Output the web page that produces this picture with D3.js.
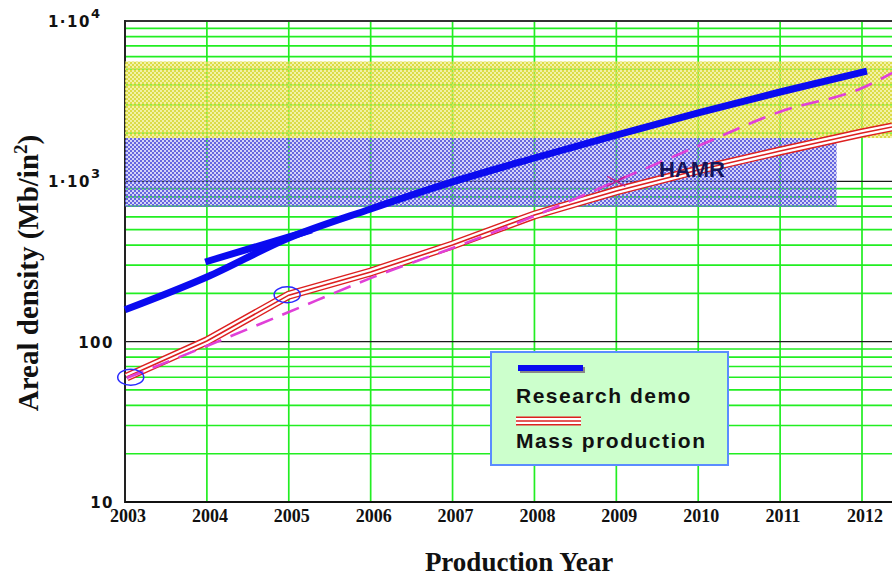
<!DOCTYPE html>
<html><head><meta charset="utf-8">
<script src="https://cdn.jsdelivr.net/npm/d3@7"></script>
<style>body{margin:0;background:#fff}svg{display:block}</style>
</head><body>
<svg id="c" width="892" height="577"></svg>
<script>
// ---------- data ----------
const yearTicks = [2003, 2004, 2005, 2006, 2007, 2008, 2009, 2010, 2011, 2012];
const yMajorTicks = [10, 100, 1000, 10000];
const yMajorLabels = ["10", "100", "1·10|3", "1·10|4"];

const researchYears = [2003.0, 2004, 2005, 2006, 2007, 2008, 2009, 2010, 2011, 2012.06];
const researchValues = [158, 253, 443, 672, 991, 1398, 1945, 2669, 3608, 4875];
const researchAltYears = [2003.98, 2005.28];
const researchAltValues = [314, 497];

const massYears = [2003.02, 2004, 2005, 2006, 2007, 2008, 2009, 2010, 2011, 2012, 2012.37];
const massValues = [60.2, 101, 195, 272, 401, 617, 871, 1177, 1546, 2002, 2183];

const trendYears = [2003.02, 2004, 2005, 2006, 2007, 2008, 2009, 2010, 2011, 2012, 2012.37];
const trendValues = [59.3, 94, 153, 249, 384, 608, 1005, 1660, 2720, 3817, 4742];

const circleYears = [2003.07, 2004.98];
const circleValues = [60, 196];

const yellowBand = {x0: 2003, x1: 2012.37, v0: 1862, v1: 5590};
const blueBand = {x0: 2003, x1: 2011.69, v0: 692, v1: 1862};
const hamrPos = {year: 2009.52, value: 1064};
const crossMark = {year: 2009.0, value: 1000};

// ---------- layout ----------
const svg = d3.select("#c");
const L = 125, R = 892, T = 21, B = 502;
const x = d3.scaleLinear().domain([2003, 2012 + 30 / 81.89]).range([L, R]);
const y = d3.scaleLog().domain([10, 10000]).range([B, T]);

const defs = svg.append("defs");
defs.append("clipPath").attr("id", "clip").append("rect")
  .attr("x", L - 8).attr("y", T - 2).attr("width", R - L + 8).attr("height", B - T + 4);
function checker(id, solid, faint) {
  const p = defs.append("pattern").attr("id", id).attr("patternUnits", "userSpaceOnUse")
    .attr("width", 4).attr("height", 4);
  p.append("rect").attr("width", 4).attr("height", 4).attr("fill", faint);
  p.append("rect").attr("x", 0).attr("y", 0).attr("width", 2).attr("height", 2).attr("fill", solid);
  p.append("rect").attr("x", 2).attr("y", 2).attr("width", 2).attr("height", 2).attr("fill", solid);
}
checker("yel", "#dcdc48", "rgba(232,232,96,0.55)");
checker("blu", "#6666e0", "rgba(120,120,226,0.32)");

// ---------- grid ----------
const grid = svg.append("g");
const minor = [];
[10, 100, 1000].forEach(d => { for (let k = 2; k <= 9; k++) minor.push(d * k); });
grid.selectAll(".hm").data(minor).enter().append("line")
  .attr("x1", L).attr("x2", R).attr("y1", d => y(d)).attr("y2", d => y(d))
  .attr("stroke", "#22ee22").attr("stroke-width", 1.7);
grid.selectAll(".vm").data(yearTicks.slice(1)).enter().append("line")
  .attr("x1", d => x(d)).attr("x2", d => x(d)).attr("y1", T).attr("y2", B)
  .attr("stroke", "#22ee22").attr("stroke-width", 1.7);
grid.selectAll(".hM").data([100, 1000]).enter().append("line")
  .attr("x1", L).attr("x2", R).attr("y1", d => y(d)).attr("y2", d => y(d))
  .attr("stroke", "#1a1a1a").attr("stroke-width", 1.4);
grid.append("line").attr("x1", L).attr("x2", R).attr("y1", y(10000)).attr("y2", y(10000))
  .attr("stroke", "#333").attr("stroke-width", 2);
grid.append("line").attr("x1", L).attr("x2", L).attr("y1", T - 1).attr("y2", B + 1)
  .attr("stroke", "#222").attr("stroke-width", 2);
grid.append("line").attr("x1", L).attr("x2", R).attr("y1", y(10)).attr("y2", y(10))
  .attr("stroke", "#111").attr("stroke-width", 2);

// ---------- bands ----------
function band(b, fill) {
  svg.append("rect").attr("x", x(b.x0)).attr("width", x(b.x1) - x(b.x0))
    .attr("y", y(b.v1)).attr("height", y(b.v0) - y(b.v1)).attr("fill", fill);
}
band(yellowBand, "url(#yel)");
band(blueBand, "url(#blu)");

// ---------- series ----------
const plot = svg.append("g").attr("clip-path", "url(#clip)");
const line = d3.line().x(d => x(d[0])).y(d => y(d[1]));
const smooth = d3.line().x(d => x(d[0])).y(d => y(d[1])).curve(d3.curveMonotoneX);

const trend = d3.zip(trendYears, trendValues);
const mass = d3.zip(massYears, massValues);
const research = d3.zip(researchYears, researchValues);
const researchAlt = d3.zip(researchAltYears, researchAltValues);

function triple(g, data, gen) {
  g.append("path").datum(data).attr("d", gen).attr("fill", "none").attr("stroke", "#dd2020").attr("stroke-width", 9);
  g.append("path").datum(data).attr("d", gen).attr("fill", "none").attr("stroke", "#fff").attr("stroke-width", 6.2);
  g.append("path").datum(data).attr("d", gen).attr("fill", "none").attr("stroke", "#dd2020").attr("stroke-width", 1.6);
}
triple(plot, mass, line);

plot.append("path").datum(trend).attr("d", smooth).attr("fill", "none")
  .attr("stroke", "#e040d8").attr("stroke-width", 2.6).attr("stroke-dasharray", "18,10");

plot.append("path").datum(research).attr("d", smooth).attr("fill", "none")
  .attr("stroke", "#0a0af0").attr("stroke-width", 7);
plot.append("path").datum(researchAlt).attr("d", line).attr("fill", "none")
  .attr("stroke", "#0a0af0").attr("stroke-width", 7);

plot.selectAll(".circ").data(d3.zip(circleYears, circleValues)).enter().append("ellipse")
  .attr("cx", d => x(d[0])).attr("cy", d => y(d[1])).attr("rx", 13).attr("ry", 8)
  .attr("fill", "none").attr("stroke", "#2a2aff").attr("stroke-width", 1.5);

const cx = x(crossMark.year), cy = y(crossMark.value);
plot.append("path").attr("d", `M${cx - 9},${cy - 5}L${cx + 9},${cy + 5}M${cx - 9},${cy + 5}L${cx + 9},${cy - 5}`)
  .attr("stroke", "#c02090").attr("stroke-width", 1.5).attr("fill", "none");

svg.append("text").attr("x", x(hamrPos.year)).attr("y", y(hamrPos.value))
  .attr("font-family", "Liberation Sans, Arial, sans-serif").attr("font-weight", "bold")
  .attr("font-size", 22).attr("fill", "#14145a").text("HAMR");

// ---------- axes labels ----------
const tickFont = "Liberation Serif, Times New Roman, serif";
svg.selectAll(".xt").data(yearTicks).enter().append("text")
  .attr("x", d => x(d) + 3).attr("y", 522).attr("text-anchor", "middle")
  .attr("font-family", tickFont).attr("font-weight", "bold").attr("font-size", 18)
  .attr("fill", "#111").text(d => d);

yMajorTicks.forEach((v, i) => {
  const lab = yMajorLabels[i];
  const t = svg.append("text").attr("y", y(v) + 6)
    .attr("font-family", "DejaVu Sans, sans-serif").attr("font-weight", "bold")
    .attr("font-size", 15).attr("letter-spacing", 1.5).attr("fill", "#111").attr("text-anchor", "end");
  if (lab.includes("|")) {
    const [base, exp] = lab.split("|");
    t.attr("x", 100);
    t.append("tspan").text(base);
    t.append("tspan").attr("dy", -9).attr("font-size", 13).attr("letter-spacing", 0).text(exp);
  } else {
    t.attr("x", 114).text(lab);
  }
});

const titleFont = "Liberation Serif, Times New Roman, serif";
svg.append("text").attr("x", 519).attr("y", 571).attr("text-anchor", "middle")
  .attr("font-family", titleFont).attr("font-weight", "bold").attr("font-size", 27)
  .attr("fill", "#111").text("Production Year");

const yt = svg.append("text").attr("transform", "translate(38,273) rotate(-90)").attr("text-anchor", "middle")
  .attr("font-family", titleFont).attr("font-weight", "bold").attr("font-size", 29).attr("fill", "#111");
yt.append("tspan").text("Areal density (Mb/in");
yt.append("tspan").attr("dy", -11).attr("font-size", 19).text("2");
yt.append("tspan").attr("dy", 11).text(")");

// ---------- legend ----------
const lg = svg.append("g");
lg.append("rect").attr("x", 491).attr("y", 352).attr("width", 237).attr("height", 113)
  .attr("fill", "#ccffcc").attr("stroke", "#5a8cff").attr("stroke-width", 2);
lg.append("line").attr("x1", 520).attr("x2", 585).attr("y1", 370).attr("y2", 370)
  .attr("stroke", "#888").attr("stroke-width", 6);
lg.append("line").attr("x1", 518).attr("x2", 583).attr("y1", 368).attr("y2", 368)
  .attr("stroke", "#0a0af0").attr("stroke-width", 6);
const lgLine = d3.line();
triple(lg, [[516, 421], [581, 421]], lgLine);
const lf = "Liberation Sans, Arial, sans-serif";
lg.append("text").attr("x", 516).attr("y", 403).attr("font-family", lf).attr("font-weight", "bold")
  .attr("font-size", 21).attr("letter-spacing", 1.5).attr("fill", "#111").text("Research demo");
lg.append("text").attr("x", 516).attr("y", 448).attr("font-family", lf).attr("font-weight", "bold")
  .attr("font-size", 21).attr("letter-spacing", 1.5).attr("fill", "#111").text("Mass production");
</script>
</body></html>
